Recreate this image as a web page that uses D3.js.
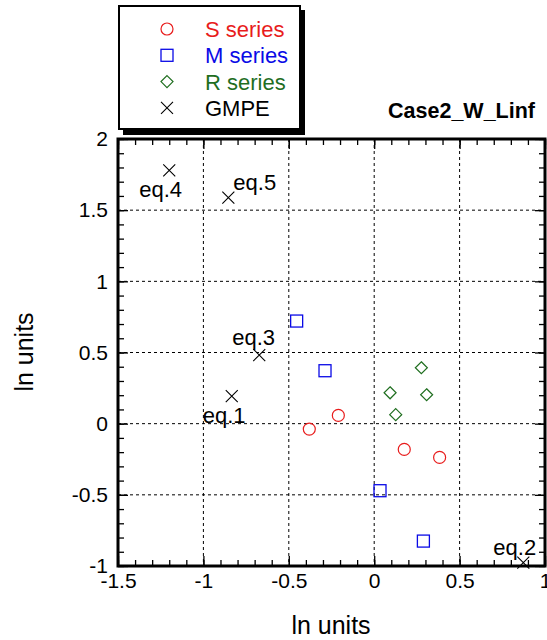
<!DOCTYPE html>
<html><head><meta charset="utf-8">
<script src="https://cdn.jsdelivr.net/npm/d3@7"></script>
<style>body{margin:0;background:#fff}svg{display:block}text{font-family:"Liberation Sans",Arial,sans-serif}</style>
</head><body><div id="chart"></div>
<script>
// Data
const sX = [-0.38, -0.21, 0.176, 0.383];
const sY = [-0.038, 0.058, -0.181, -0.237];
const mX = [-0.454, -0.288, 0.034, 0.288];
const mY = [0.721, 0.372, -0.471, -0.825];
const rX = [0.276, 0.093, 0.307, 0.126];
const rY = [0.393, 0.217, 0.203, 0.063];
const gmpeX = [-0.834, 0.873, -0.673, -1.20, -0.854];
const gmpeY = [0.194, -0.977, 0.482, 1.78, 1.588];
const gmpeLabels = ["eq.1", "eq.2", "eq.3", "eq.4", "eq.5"];
const xTicks = [-1.5, -1, -0.5, 0, 0.5, 1];
const yTicks = [-1, -0.5, 0, 0.5, 1, 1.5, 2];
const legendNames = ["S series", "M series", "R series", "GMPE"];
const chartTitle = "Case2_W_Linf";
const xTitle = "ln units", yTitle = "ln units";

// Layout / style
const W = 547, H = 640;
const L = 118, R = 545, T = 139, B = 566;
const labelOffsets = [[-29, 27], [-30, -8], [-27, -10], [-30, 27], [5, -8]];
const colors = {S: "#e81c1c", M: "#0a0ae6", R: "#1f6e1f", G: "#000"};

const svg = d3.select("#chart").append("svg").attr("width", W).attr("height", H);
const x = d3.scaleLinear().domain([-1.5, 1]).range([L, R]);
const y = d3.scaleLinear().domain([-1, 2]).range([B, T]);

const minorX = d3.range(-15, 11).map(d => d / 10);
const minorY = d3.range(-10, 21).map(d => d / 10);

// grid
const g = svg.append("g");
g.selectAll(".gx").data(xTicks.slice(1, -1)).join("line")
  .attr("x1", d => x(d)).attr("x2", d => x(d)).attr("y1", T).attr("y2", B)
  .attr("stroke", "#000").attr("stroke-width", 1).attr("stroke-dasharray", "3,3");
g.selectAll(".gy").data(yTicks.slice(1, -1)).join("line")
  .attr("y1", d => y(d)).attr("y2", d => y(d)).attr("x1", L).attr("x2", R)
  .attr("stroke", "#000").attr("stroke-width", 1).attr("stroke-dasharray", "3,3");

// inner ticks via axes
function ticksAxis(axisFn, scale, vals, size, transform) {
  const a = svg.append("g").attr("transform", transform)
    .call(axisFn(scale).tickValues(vals).tickSize(size).tickFormat(""));
  a.select(".domain").remove();
  a.selectAll("line").attr("stroke", "#000").attr("stroke-width", 1.3);
}
ticksAxis(d3.axisBottom, x, minorX, -6, `translate(0,${B})`);
ticksAxis(d3.axisBottom, x, xTicks, -10, `translate(0,${B})`);
ticksAxis(d3.axisTop, x, minorX, -6, `translate(0,${T})`);
ticksAxis(d3.axisTop, x, xTicks, -10, `translate(0,${T})`);
ticksAxis(d3.axisLeft, y, minorY, -6, `translate(${L},0)`);
ticksAxis(d3.axisLeft, y, yTicks, -10, `translate(${L},0)`);
ticksAxis(d3.axisRight, y, minorY, -6, `translate(${R},0)`);
ticksAxis(d3.axisRight, y, yTicks, -10, `translate(${R},0)`);

// tick labels
const xl = svg.append("g").attr("transform", `translate(0,${B})`)
  .call(d3.axisBottom(x).tickValues(xTicks).tickSize(0).tickPadding(7).tickFormat(d => String(d)));
xl.select(".domain").remove();
xl.selectAll("text").attr("font-size", 21).attr("fill", "#000").attr("font-family", '"Liberation Sans",Arial,sans-serif');
const yl = svg.append("g").attr("transform", `translate(${L},0)`)
  .call(d3.axisLeft(y).tickValues(yTicks).tickSize(0).tickPadding(10).tickFormat(d => String(d)));
yl.select(".domain").remove();
yl.selectAll("text").attr("font-size", 21).attr("fill", "#000").attr("font-family", '"Liberation Sans",Arial,sans-serif');

// frame
svg.append("rect").attr("x", L).attr("y", T).attr("width", R - L).attr("height", B - T)
  .attr("fill", "none").attr("stroke", "#000").attr("stroke-width", 3);

// marker shapes
const S = 6;
function drawCircle(sel, cx, cy, c) { sel.append("circle").attr("cx", cx).attr("cy", cy).attr("r", S).attr("fill", "none").attr("stroke", c).attr("stroke-width", 1.2); }
function drawSquare(sel, cx, cy, c) { sel.append("rect").attr("x", cx - S).attr("y", cy - S).attr("width", 2 * S).attr("height", 2 * S).attr("fill", "none").attr("stroke", c).attr("stroke-width", 1.3); }
function drawDiamond(sel, cx, cy, c) { sel.append("path").attr("d", `M${cx},${cy - S}L${cx + S},${cy}L${cx},${cy + S}L${cx - S},${cy}Z`).attr("fill", "none").attr("stroke", c).attr("stroke-width", 1.2); }
function drawX(sel, cx, cy, c) { sel.append("path").attr("d", `M${cx - S},${cy - S}L${cx + S},${cy + S}M${cx - S},${cy + S}L${cx + S},${cy - S}`).attr("fill", "none").attr("stroke", c).attr("stroke-width", 1.1); }

const pts = svg.append("g");
sX.forEach((v, i) => drawCircle(pts, x(v), y(sY[i]), colors.S));
mX.forEach((v, i) => drawSquare(pts, x(v), y(mY[i]), colors.M));
rX.forEach((v, i) => drawDiamond(pts, x(v), y(rY[i]), colors.R));
gmpeX.forEach((v, i) => {
  drawX(pts, x(v), y(gmpeY[i]), colors.G);
  pts.append("text").attr("x", x(v) + labelOffsets[i][0]).attr("y", y(gmpeY[i]) + labelOffsets[i][1])
    .attr("font-size", 22).attr("fill", "#000").text(gmpeLabels[i]);
});

// titles
svg.append("text").attr("x", 535).attr("y", 118).attr("text-anchor", "end")
  .attr("font-size", 21.5).attr("font-weight", "bold").text(chartTitle);
svg.append("text").attr("x", 331).attr("y", 634).attr("text-anchor", "middle")
  .attr("font-size", 25).text(xTitle);
svg.append("text").attr("transform", "translate(33,352) rotate(-90)").attr("text-anchor", "middle")
  .attr("font-size", 25).text(yTitle);

// legend
const lg = svg.append("g");
lg.append("rect").attr("x", 123).attr("y", 10).attr("width", 182).attr("height", 125).attr("fill", "#000");
lg.append("rect").attr("x", 119).attr("y", 6).attr("width", 181).attr("height", 123)
  .attr("fill", "#fff").attr("stroke", "#000").attr("stroke-width", 2);
const lgColors = [colors.S, colors.M, colors.R, colors.G];
const drawers = [drawCircle, drawSquare, drawDiamond, drawX];
legendNames.forEach((n, i) => {
  const cy = 29 + i * 26.3;
  drawers[i](lg, 167, cy, lgColors[i]);
  lg.append("text").attr("x", 205).attr("y", cy + 8).attr("font-size", 22).attr("fill", lgColors[i]).text(n);
});
</script></body></html>
